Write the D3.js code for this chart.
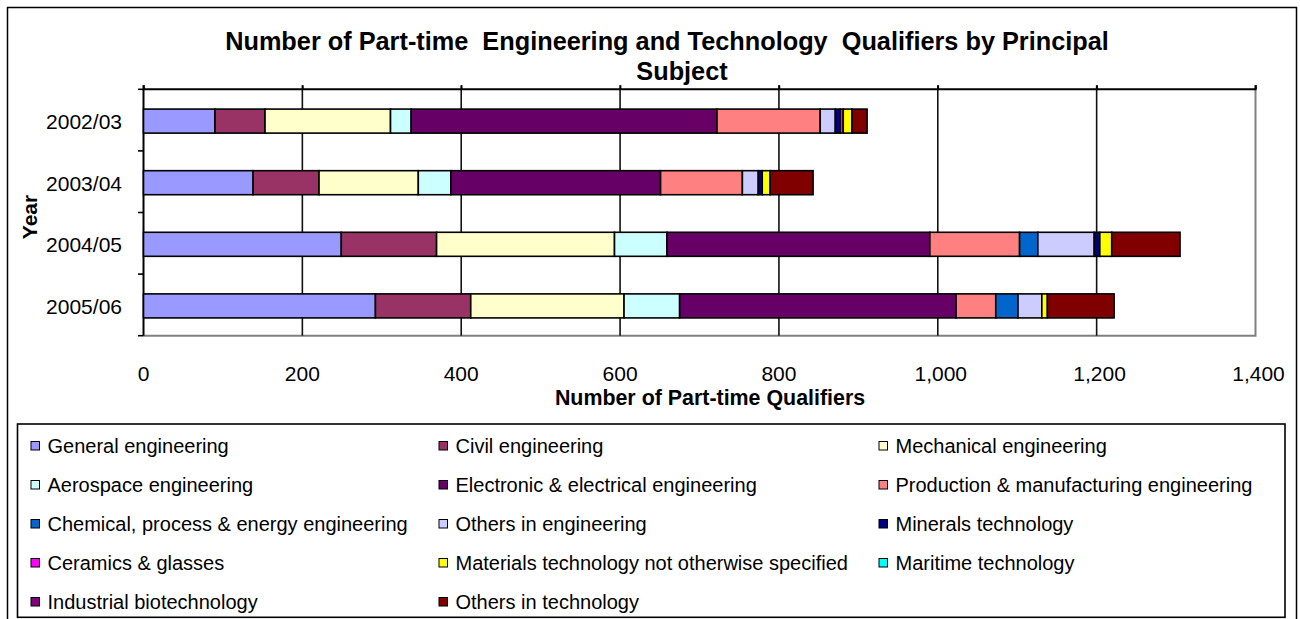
<!DOCTYPE html>
<html>
<head>
<meta charset="utf-8">
<script src="https://cdn.jsdelivr.net/npm/d3@7"></script>
<style>
  html, body { margin: 0; padding: 0; background: #fff; }
  svg { display: block; font-family: "Liberation Sans", Arial, sans-serif; }
</style>
</head>
<body>
<svg id="chart" width="1300" height="619"></svg>
<script>
// Academic years (top to bottom)
const years = ["2002/03", "2003/04", "2004/05", "2005/06"];

// Principal subjects, in stacking order
const subjects = [
  "General engineering",
  "Civil engineering",
  "Mechanical engineering",
  "Aerospace engineering",
  "Electronic & electrical engineering",
  "Production & manufacturing engineering",
  "Chemical, process & energy engineering",
  "Others in engineering",
  "Minerals technology",
  "Ceramics & glasses",
  "Materials technology not otherwise specified",
  "Maritime technology",
  "Industrial biotechnology",
  "Others in technology"
];

// Part-time qualifiers per subject, one value per year
const generalEng     = [90, 138, 249, 292];
const civilEng       = [63, 83, 120, 120];
const mechanicalEng  = [158, 125, 224, 193];
const aerospaceEng   = [26, 41, 66, 70];
const electronicEng  = [385, 264, 331, 348];
const productionEng  = [130, 103, 113, 50];
const chemicalEng    = [0, 0, 23, 28];
const othersEng      = [19, 20, 71, 30];
const mineralsTech   = [6, 5, 7, 0];
const ceramicsGlass  = [4, 0, 0, 0];
const materialsTech  = [11, 10, 15, 7];
const maritimeTech   = [0, 0, 0, 0];
const industrialBio  = [0, 0, 0, 0];
const othersTech     = [19, 54, 86, 84];

const xTicks = [0, 200, 400, 600, 800, 1000, 1200, 1400];

const seriesValues = [generalEng, civilEng, mechanicalEng, aerospaceEng, electronicEng,
  productionEng, chemicalEng, othersEng, mineralsTech, ceramicsGlass, materialsTech,
  maritimeTech, industrialBio, othersTech];

const colors = ["#9999FF", "#993366", "#FFFFCC", "#CCFFFF", "#660066", "#FF8080",
  "#0066CC", "#CCCCFF", "#000080", "#FF00FF", "#FFFF00", "#00FFFF", "#800080", "#800000"];

// Build row objects for the stack layout
const rows = years.map((yr, i) => {
  const r = { year: yr };
  subjects.forEach((s, j) => { r[s] = seriesValues[j][i]; });
  return r;
});
const stacked = d3.stack().keys(subjects)(rows);

const svg = d3.select("#chart");

// Outer chart frame
svg.append("rect").attr("x", 7.5).attr("y", 7.5).attr("width", 1289).attr("height", 640)
  .attr("fill", "#fff").attr("stroke", "#000").attr("stroke-width", 1.5);

const plot = { left: 143.5, right: 1255.5, top: 89.3, bottom: 335.7 };

const x = d3.scaleLinear().domain([0, 1400]).range([plot.left, plot.right]);
const y = d3.scaleBand().domain(years).range([plot.top + 1, plot.bottom + 1])
  .paddingInner(0.61).paddingOuter(0.305);

// Plot-area border (right & bottom grey)
svg.append("path")
  .attr("d", `M${plot.right},${plot.top}V${plot.bottom}H${plot.left}`)
  .attr("fill", "none").attr("stroke", "#808080").attr("stroke-width", 2);

// Vertical gridlines with outward ticks above the top axis
const grid = svg.append("g");
grid.selectAll("line").data(xTicks.slice(1, -1)).join("line")
  .attr("x1", d => x(d)).attr("x2", d => x(d))
  .attr("y1", plot.top - 4).attr("y2", plot.bottom)
  .attr("stroke", "#111").attr("stroke-width", 1.6);

// Value axis along the top
const topAxis = d3.axisTop(x).tickValues(xTicks).tickSize(4).tickFormat("");
svg.append("g").attr("transform", `translate(0,${plot.top})`).call(topAxis)
  .call(g => g.select(".domain").attr("stroke", "#000").attr("stroke-width", 2)
    .attr("d", `M${plot.left},-4V0H${plot.right}V-4`))
  .call(g => g.selectAll(".tick line").attr("stroke", "#000").attr("stroke-width", 1.6));

// Tick labels below the plot
svg.append("g").selectAll("text").data(xTicks).join("text")
  .attr("x", d => x(d) + (d >= 1000 ? 3 : 0)).attr("y", 380.5)
  .attr("text-anchor", "middle").attr("font-size", 21).attr("fill", "#000")
  .text(d => d3.format(",")(d));

// Category axis on the left
const catTicks = [plot.top, ...years.slice(1).map(yr => y(yr) - y.step() * y.paddingInner() / 2 - 1), plot.bottom];
svg.append("line").attr("x1", plot.left).attr("x2", plot.left)
  .attr("y1", plot.top).attr("y2", plot.bottom)
  .attr("stroke", "#000").attr("stroke-width", 2);
svg.append("g").selectAll("line").data(catTicks).join("line")
  .attr("x1", plot.left - 5.5).attr("x2", plot.left)
  .attr("y1", d => d).attr("y2", d => d)
  .attr("stroke", "#000").attr("stroke-width", 1.6);

svg.append("g").selectAll("text").data(years).join("text")
  .attr("x", 122).attr("y", d => y(d) + y.bandwidth() / 2 + 8)
  .attr("text-anchor", "end").attr("font-size", 21).attr("fill", "#000")
  .text(d => d);

// Stacked bars
svg.append("g").selectAll("g").data(stacked).join("g")
  .attr("fill", (d, i) => colors[i])
  .selectAll("rect").data(d => d.filter(p => p[1] - p[0] > 0)).join("rect")
  .attr("x", p => x(p[0])).attr("width", p => x(p[1]) - x(p[0]))
  .attr("y", p => y(p.data.year)).attr("height", y.bandwidth())
  .attr("stroke", "#000").attr("stroke-width", 1.6);

// Titles
svg.append("text").attr("x", 667).attr("y", 50).attr("text-anchor", "middle")
  .attr("font-size", 25.3).attr("font-weight", "bold").attr("xml:space", "preserve")
  .text("Number of Part-time  Engineering and Technology  Qualifiers by Principal");
svg.append("text").attr("x", 682).attr("y", 80).attr("text-anchor", "middle")
  .attr("font-size", 25.3).attr("font-weight", "bold").text("Subject");

svg.append("text").attr("x", 710).attr("y", 405).attr("text-anchor", "middle")
  .attr("font-size", 21.4).attr("font-weight", "bold").text("Number of Part-time Qualifiers");

svg.append("text").attr("transform", "translate(36.5,217) rotate(-90)")
  .attr("text-anchor", "middle").attr("font-size", 21).attr("font-weight", "bold").text("Year");

// Legend
const legend = svg.append("g");
legend.append("rect").attr("x", 17.5).attr("y", 424).attr("width", 1267.5).attr("height", 193.3)
  .attr("fill", "#fff").attr("stroke", "#000").attr("stroke-width", 1.6);
const colX = [31, 439, 879];
const items = legend.selectAll("g.item").data(subjects).join("g").attr("class", "item")
  .attr("transform", (d, i) => `translate(${colX[i % 3]},${446 + Math.floor(i / 3) * 39})`);
items.append("rect").attr("x", 0).attr("y", -4.5).attr("width", 8.5).attr("height", 8.5)
  .attr("fill", (d, i) => colors[i]).attr("stroke", "#000").attr("stroke-width", 1);
items.append("text").attr("x", 16.5).attr("y", 7).attr("font-size", 20).attr("fill", "#000")
  .text(d => d);
</script>
</body>
</html>
